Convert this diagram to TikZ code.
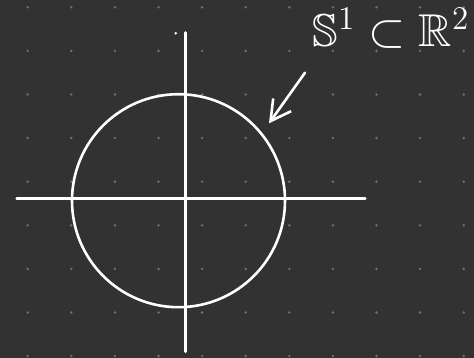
\documentclass[tikz,border=0pt]{standalone}
\usepackage{amsmath, amssymb}
\usepackage{tikz}
\usetikzlibrary{arrows.meta}
\definecolor{board}{RGB}{50,50,50}
\definecolor{griddot}{RGB}{110,110,110}
\tikzset{
    chalk/.style={draw=white, line width=2.6pt, line cap=round},
    pointer/.style={chalk, -{Straight Barb[length=20pt, width=22pt, line width=2.6pt]}},
    gdot/.style={fill=griddot}
}

\begin{document}
\begin{tikzpicture}[x=1pt, y=-1pt]
\fill[board] (0,0) rectangle (474,358);
\useasboundingbox (0,0) rectangle (474,358);
\foreach \i in {0,...,10}
  \foreach \j in {0,...,8}
    \fill[gdot] (27.7+43.6*\i, 7.3+43.6*\j) circle[radius=1.4pt];
\coordinate (west) at (16.7,198.7);
\coordinate (east) at (365.3,198.7);
\coordinate (south) at (185.7,351.7);
\coordinate (north) at (185.7,32.5);
\coordinate (centre) at (178.5,200.7);
\draw[chalk] (west) -- (east);
\draw[chalk] (south) -- (north);
\draw[chalk] (centre) circle[radius=106.5pt];
\fill[white] (175.7,33.3) circle[radius=1.4pt];
\node[inner sep=0pt, text=white, font=\fontsize{20}{24}\selectfont, scale=2.3] (sone) at (391,28) {$\mathbb{S}^1\subset\mathbb{R}^2$};
\coordinate (tail) at (305,72.7);
\coordinate (tip) at (269,123.3);
\draw[pointer] (tail) -- (tip);
\end{tikzpicture}
\end{document}
